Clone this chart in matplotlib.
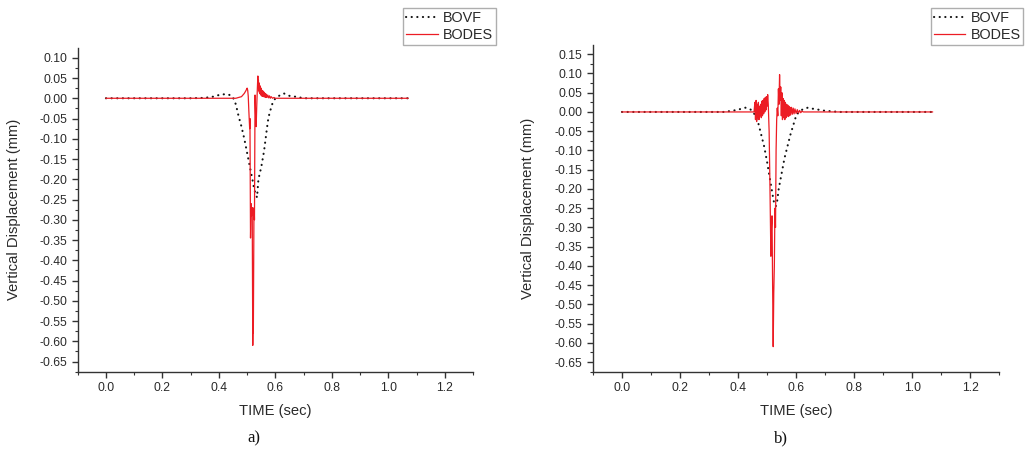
import matplotlib
matplotlib.use("Agg")
import matplotlib.pyplot as plt
from matplotlib.ticker import MultipleLocator, FormatStrFormatter

plt.rcParams['font.family'] = ['Liberation Sans', 'DejaVu Sans']

# ---- panel a) ----
bovf_a_t = [0.0, 0.10, 0.20, 0.30, 0.35, 0.38, 0.40, 0.42, 0.44, 0.45, 0.46, 0.47, 0.48,
            0.49, 0.50, 0.51, 0.52, 0.525, 0.53, 0.535, 0.54, 0.55, 0.56, 0.57, 0.575,
            0.58, 0.59, 0.60, 0.61, 0.63, 0.65, 0.68, 0.70, 0.80, 0.90, 1.00, 1.07]
bovf_a_v = [0.0, 0.0, 0.0, 0.0, 0.001, 0.004, 0.008, 0.010, 0.008, 0.002, -0.015, -0.045, -0.07,
            -0.10, -0.135, -0.17, -0.205, -0.225, -0.235, -0.245, -0.20, -0.17, -0.13, -0.075, -0.05,
            -0.035, -0.012, 0.0, 0.005, 0.012, 0.006, 0.003, 0.0, 0.0, 0.0, 0.0, 0.0]

bodes_a_t = [0.0, 0.40, 0.46, 0.47, 0.48, 0.485, 0.49, 0.495, 0.498, 0.500, 0.502, 0.504,
             0.506, 0.508, 0.509, 0.510, 0.512, 0.514, 0.516, 0.518, 0.520, 0.521, 0.522,
             0.524, 0.525, 0.526, 0.528, 0.530, 0.532, 0.534, 0.536, 0.538, 0.539, 0.540,
             0.541, 0.542, 0.543, 0.544, 0.545, 0.546, 0.547, 0.548, 0.549, 0.550, 0.551,
             0.552, 0.554, 0.556, 0.558, 0.560, 0.562, 0.564, 0.566, 0.568, 0.570, 0.573,
             0.576, 0.579, 0.582, 0.585, 0.590, 0.595, 0.60, 1.07]
bodes_a_v = [0.0, 0.0, 0.0, 0.002, 0.004, 0.008, 0.012, 0.018, 0.022, 0.025, 0.020, 0.005,
             -0.03, -0.06, -0.075, -0.05, -0.345, -0.26, -0.29, -0.27, -0.61, -0.54, -0.58,
             -0.30, -0.27, -0.30, 0.008, -0.04, -0.07, -0.02, 0.02, 0.055, 0.03, 0.045,
             0.02, 0.038, 0.015, 0.032, 0.012, 0.030, 0.010, 0.026, 0.008, 0.024, 0.006,
             0.020, 0.005, 0.018, 0.004, 0.015, 0.003, 0.012, 0.002, 0.010, 0.002, 0.008,
             0.001, 0.006, 0.0, 0.004, 0.0, 0.002, 0.0, 0.0]

# ---- panel b) ----
bovf_b_t = [0.0, 0.10, 0.20, 0.30, 0.35, 0.38, 0.40, 0.425, 0.44, 0.45, 0.46, 0.47, 0.48,
            0.49, 0.50, 0.51, 0.52, 0.525, 0.53, 0.535, 0.54, 0.55, 0.56, 0.57, 0.58,
            0.59, 0.60, 0.61, 0.625, 0.64, 0.66, 0.70, 0.75, 0.80, 0.90, 1.00, 1.07]
bovf_b_v = [0.0, 0.0, 0.0, 0.0, 0.0, 0.003, 0.006, 0.011, 0.008, 0.002, -0.01, -0.03, -0.06,
            -0.09, -0.13, -0.175, -0.22, -0.24, -0.245, -0.23, -0.20, -0.16, -0.12, -0.09, -0.06,
            -0.035, -0.01, 0.0, 0.008, 0.011, 0.008, 0.003, 0.0, 0.0, 0.0, 0.0, 0.0]

bodes_b_t = [0.0, 0.45, 0.455, 0.458, 0.460, 0.462, 0.464, 0.466, 0.468, 0.470, 0.472, 0.474,
             0.476, 0.478, 0.480, 0.482, 0.484, 0.486, 0.488, 0.490, 0.492, 0.494, 0.496,
             0.498, 0.500, 0.502, 0.504, 0.507, 0.510, 0.513, 0.515, 0.517, 0.519, 0.521,
             0.523, 0.525, 0.527, 0.529, 0.531, 0.533, 0.535, 0.537, 0.539, 0.541, 0.543,
             0.545, 0.547, 0.549, 0.551, 0.553, 0.555, 0.557, 0.559, 0.561, 0.563, 0.565,
             0.567, 0.569, 0.571, 0.573, 0.575, 0.577, 0.579, 0.581, 0.584, 0.587, 0.590,
             0.593, 0.596, 0.600, 0.604, 0.608, 0.612, 0.616, 0.620, 0.625, 1.07]
bodes_b_v = [0.0, 0.0, 0.0, 0.025, -0.02, 0.03, -0.025, 0.02, -0.015, 0.025, -0.02, 0.015,
             -0.01, 0.02, -0.015, 0.028, -0.01, 0.03, -0.005, 0.035, 0.0, 0.038, 0.005,
             0.04, 0.015, 0.045, 0.02, -0.05, -0.20, -0.375, -0.30, -0.27, -0.45, -0.61,
             -0.47, -0.40, -0.25, -0.30, -0.10, -0.02, 0.01, -0.01, 0.06, 0.02, 0.097,
             0.03, 0.065, -0.01, 0.05, -0.02, 0.035, -0.015, 0.03, -0.02, 0.025, -0.015,
             0.02, -0.01, 0.018, -0.012, 0.015, -0.01, 0.012, -0.008, 0.012, -0.006, 0.01,
             -0.005, 0.008, -0.004, 0.006, -0.003, 0.004, -0.002, 0.002, 0.0, 0.0]

series_labels = ['BOVF', 'BODES']
panel_tags = ['a)', 'b)']
xticks = [0.0, 0.2, 0.4, 0.6, 0.8, 1.0, 1.2]

txt = '#2a2a2a'
red = '#ec1c24'

fig = plt.figure(figsize=(10.25, 4.49), dpi=100)

panels = [
    dict(rect=[0.0758, 0.1722, 0.3857, 0.7208], ylim=(-0.675, 0.124),
         bovf=(bovf_a_t, bovf_a_v), bodes=(bodes_a_t, bodes_a_v),
         leg=(0.484, 0.982), tag=(0.2478, 0.0245)),
    dict(rect=[0.5785, 0.1722, 0.3964, 0.7276], ylim=(-0.675, 0.174),
         bovf=(bovf_b_t, bovf_b_v), bodes=(bodes_b_t, bodes_b_v),
         leg=(0.9985, 0.982), tag=(0.762, 0.0245)),
]

for p, tag in zip(panels, panel_tags):
    ax = fig.add_axes(p['rect'])
    l1, = ax.plot(p['bovf'][0], p['bovf'][1], color='#111111', lw=1.5,
                  linestyle=(0, (0.1, 2.6)), dash_capstyle='round', zorder=2)
    l2, = ax.plot(p['bodes'][0], p['bodes'][1], color=red, lw=0.9, zorder=3)

    ax.set_xlim(-0.1, 1.3)
    ax.set_ylim(*p['ylim'])
    ax.set_xticks(xticks)
    ax.xaxis.set_minor_locator(MultipleLocator(0.1))
    ax.yaxis.set_major_locator(MultipleLocator(0.05))
    ax.yaxis.set_minor_locator(MultipleLocator(0.025))
    ax.xaxis.set_major_formatter(FormatStrFormatter('%.1f'))
    ax.yaxis.set_major_formatter(FormatStrFormatter('%.2f'))

    for s in ['top', 'right']:
        ax.spines[s].set_visible(False)
    for s in ['left', 'bottom']:
        ax.spines[s].set_color('#333333')
        ax.spines[s].set_linewidth(1.0)
    ax.tick_params(which='major', direction='out', length=4, width=1.0,
                   colors='#333333', labelcolor=txt, labelsize=8.7, pad=3.5)
    ax.tick_params(which='minor', direction='out', length=2.5, width=0.8, colors='#333333')

    ax.set_xlabel('TIME (sec)', fontsize=10.6, color=txt)
    ax.set_ylabel('Vertical Displacement (mm)', fontsize=10.6, color=txt)
    ax.xaxis.set_label_coords(0.5, -0.1)
    ax.yaxis.set_label_coords(-0.143, 0.5)

    leg = fig.legend([l1, l2], series_labels, loc='upper right', bbox_to_anchor=p['leg'],
                     fontsize=10.4, frameon=True, fancybox=False, handlelength=2.2,
                     handletextpad=0.35, borderpad=0.2, labelspacing=0.2,
                     borderaxespad=0.0)
    leg.get_frame().set_edgecolor('#9a9a9a')
    leg.get_frame().set_linewidth(1.0)
    for t in leg.get_texts():
        t.set_color(txt)

    fig.text(p['tag'][0], p['tag'][1], tag, fontsize=12, family='Liberation Serif',
             ha='center', va='center', color='#111111')

fig.savefig('out.png', dpi=100)
